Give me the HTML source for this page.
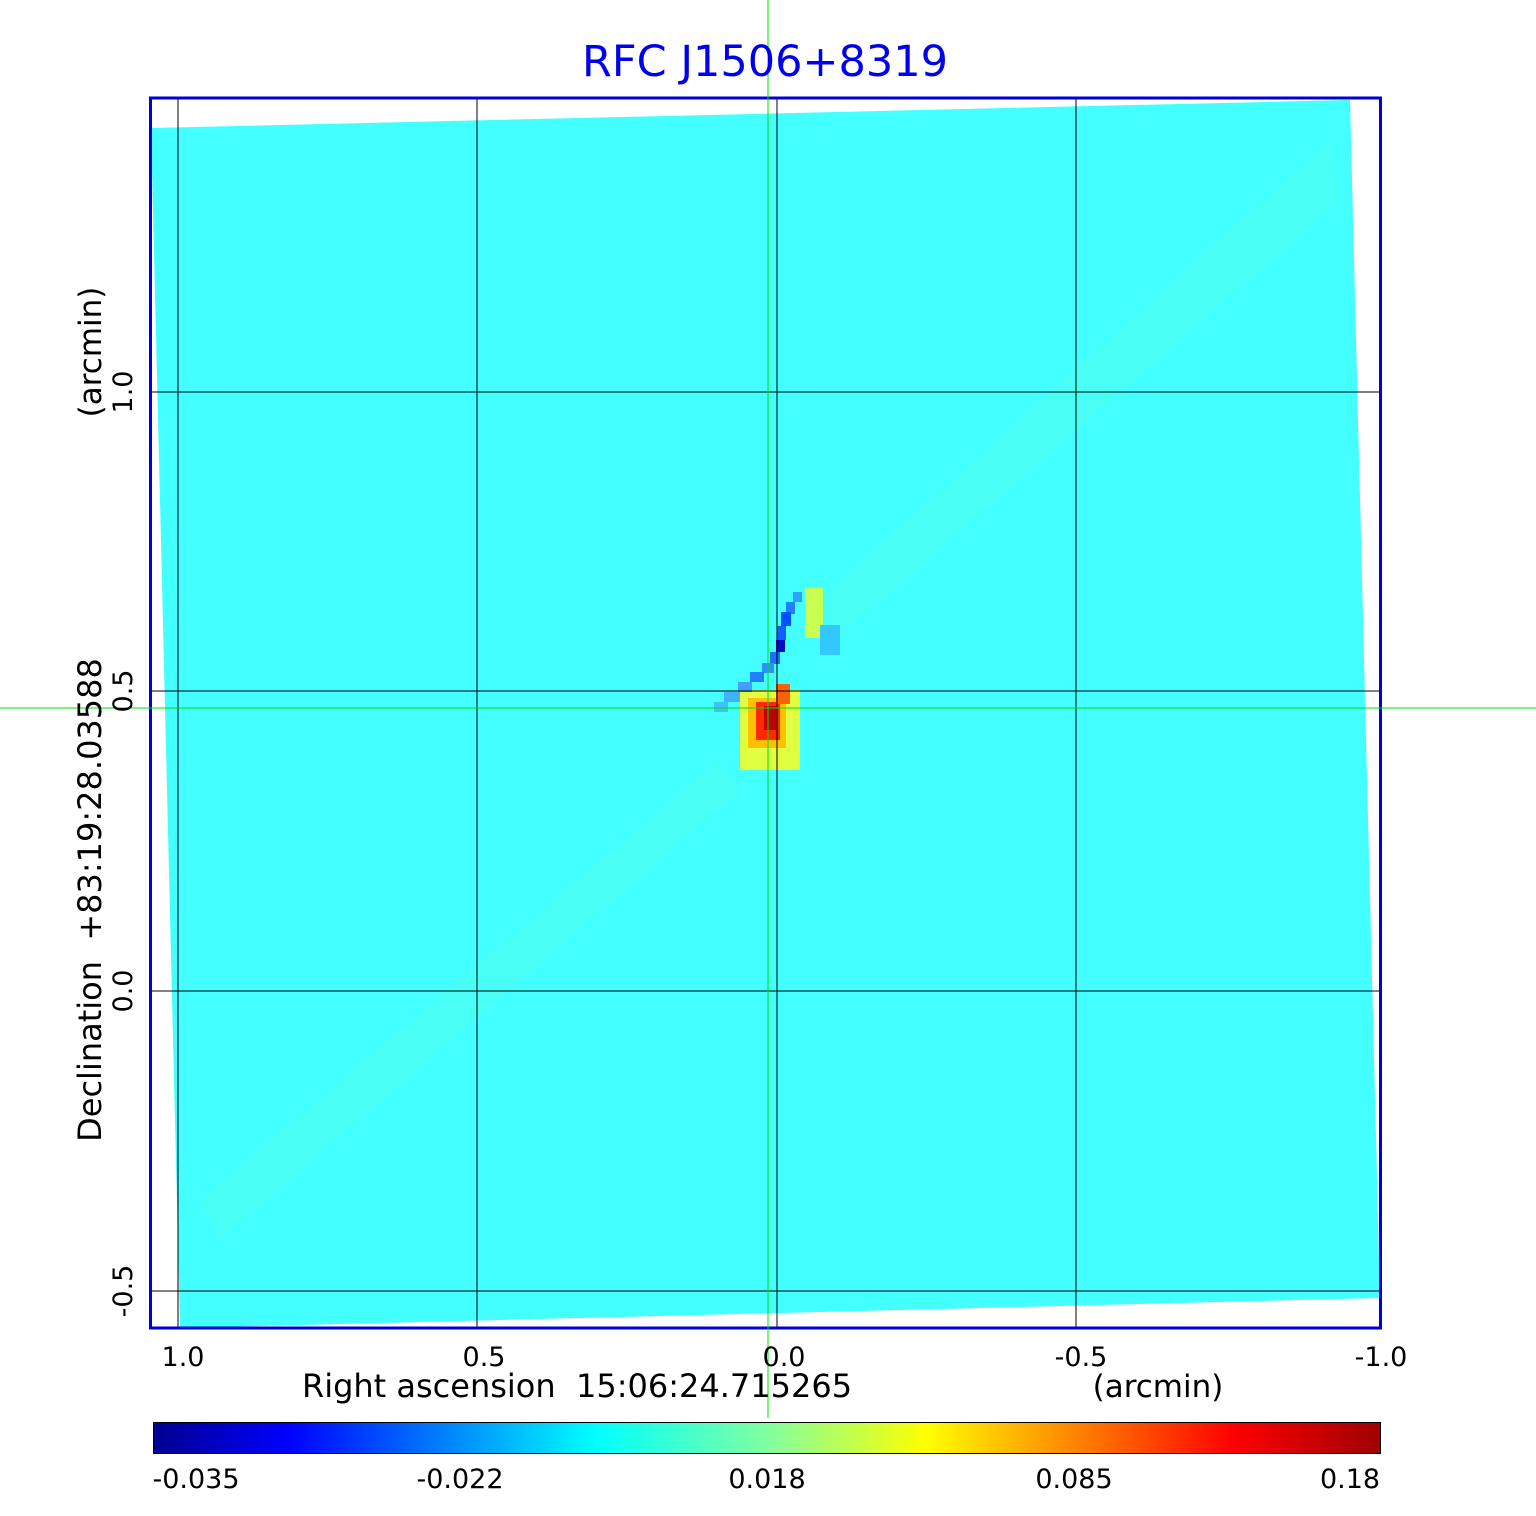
<!DOCTYPE html>
<html><head><style>body{margin:0;background:#fff}</style></head><body>
<svg width="1536" height="1511" xmlns="http://www.w3.org/2000/svg" font-family="DejaVu Sans, Liberation Sans, sans-serif">
<defs>
<linearGradient id="jet" x1="0" x2="1" y1="0" y2="0">
<stop offset="0" stop-color="#000090"/><stop offset="0.11" stop-color="#0000ff"/>
<stop offset="0.36" stop-color="#00ffff"/><stop offset="0.5" stop-color="#80ffa0"/>
<stop offset="0.63" stop-color="#ffff00"/><stop offset="0.88" stop-color="#ff0000"/>
<stop offset="1" stop-color="#a00000"/></linearGradient>
</defs>
<polygon points="151,128 1350,100 1380,1298 180,1328" fill="#44ffff"/>
<g fill-opacity="0.12">
<polygon points="820,600 1330,140 1340,200 835,640" fill="#70ffb0"/>
<polygon points="720,760 200,1200 220,1240 740,790" fill="#70ffb0"/>
</g>
<g>
<rect x="740" y="690" width="60" height="80" fill="#e0ff40"/>
<rect x="748" y="698" width="38" height="50" fill="#ffc000"/>
<rect x="756" y="702" width="24" height="38" fill="#ff2800"/>
<rect x="764" y="706" width="12" height="24" fill="#c00000"/>
<rect x="776" y="684" width="14" height="20" fill="#ff6000"/>
<rect x="805" y="588" width="18" height="50" fill="#c8ff50"/>
<rect x="820" y="625" width="20" height="30" fill="#30c8ff"/>
<rect x="793" y="592" width="9" height="10" fill="#30a0ff"/>
<rect x="786" y="602" width="9" height="12" fill="#2080ff"/>
<rect x="781" y="612" width="10" height="14" fill="#0050ff"/>
<rect x="777" y="626" width="9" height="14" fill="#1060ff"/>
<rect x="776" y="640" width="9" height="12" fill="#0010c0"/>
<rect x="770" y="652" width="10" height="12" fill="#2070ff"/>
<rect x="762" y="663" width="12" height="10" fill="#3090ff"/>
<rect x="750" y="672" width="14" height="10" fill="#2080ff"/>
<rect x="738" y="682" width="14" height="10" fill="#40a0ff"/>
<rect x="724" y="692" width="16" height="10" fill="#40b0ff"/>
<rect x="714" y="702" width="14" height="10" fill="#40c0ff"/>
</g>
<g stroke="#000" stroke-width="1">
<line x1="178" y1="98" x2="178" y2="1328"/><line x1="477" y1="98" x2="477" y2="1328"/>
<line x1="777" y1="98" x2="777" y2="1328"/><line x1="1076" y1="98" x2="1076" y2="1328"/>
<line x1="151" y1="392" x2="1381" y2="392"/><line x1="151" y1="691" x2="1381" y2="691"/>
<line x1="151" y1="991" x2="1381" y2="991"/><line x1="151" y1="1291" x2="1381" y2="1291"/>
</g>
<rect x="150.5" y="98" width="1230" height="1230" fill="none" stroke="#0000dd" stroke-width="3"/>
<g stroke="#00e000" stroke-width="1">
<line x1="768" y1="0" x2="768" y2="1418"/><line x1="0" y1="708" x2="1536" y2="708"/>
</g>
<text x="765" y="76" font-size="43" fill="#0000ee" text-anchor="middle">RFC J1506+8319</text>
<g font-size="27" fill="#000" text-anchor="middle">
<text x="183" y="1366">1.0</text><text x="484" y="1366">0.5</text><text x="784" y="1366">0.0</text>
<text x="1081" y="1366">-0.5</text><text x="1381" y="1366">-1.0</text>
<text x="577" y="1397" font-size="32">Right ascension&#160;&#160;15:06:24.715265</text>
<text x="1158" y="1397" font-size="31">(arcmin)</text>
<g transform="rotate(-90)">
<text x="-392" y="132">1.0</text><text x="-691" y="132">0.5</text><text x="-991" y="132">0.0</text><text x="-1291" y="132">-0.5</text>
<text x="-352" y="101" font-size="31">(arcmin)</text>
<text x="-900" y="101" font-size="32">Declination&#160;&#160;+83:19:28.03588</text>
</g>
</g>
<rect x="153.5" y="1422.5" width="1227" height="31" fill="url(#jet)" stroke="#000" stroke-width="1"/>
<g font-size="27" text-anchor="middle">
<text x="196" y="1488">-0.035</text><text x="460" y="1488">-0.022</text><text x="767" y="1488">0.018</text>
<text x="1074" y="1488">0.085</text><text x="1350" y="1488">0.18</text>
</g>
</svg>
</body></html>
